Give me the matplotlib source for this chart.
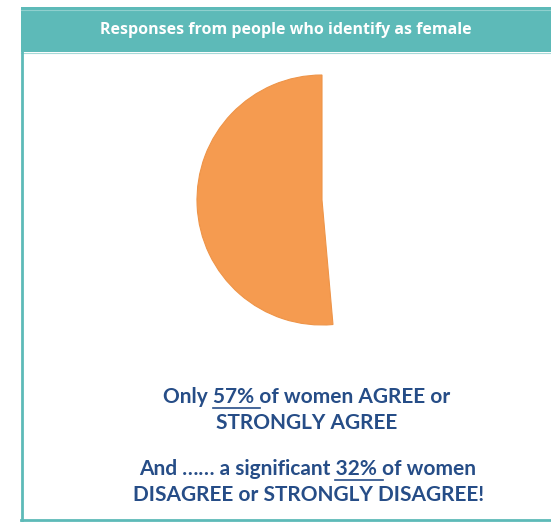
import matplotlib.pyplot as plt
from matplotlib.patches import Rectangle

# data
slice_labels = ['Shown', 'Rest']
slice_values = [51.4, 48.6]
title_text = 'Responses from people who identify as female'
line1 = ('Only ', '57% ', 'of women AGREE or')
line2 = 'STRONGLY AGREE'
line3 = ('And \u2026\u2026 a significant ', '32% ', 'of women')
line4 = 'DISAGREE or STRONGLY DISAGREE!'

W, H = 551, 522
teal = '#5DBAB8'
orange = '#F59B50'
navy = '#264D87'

fig = plt.figure(figsize=(W / 100, H / 100), dpi=100)
ax = fig.add_axes([0, 0, 1, 1])
ax.set_xlim(0, W)
ax.set_ylim(H, 0)
ax.axis('off')

# frame and header
ax.add_patch(Rectangle((21, 7), W - 21, 45, color=teal, lw=0))
ax.plot([21, W], [9.5, 9.5], color='#8FD0CE', lw=0.8)
ax.plot([21, W], [52.5, 52.5], color='#A6DAD8', lw=0.8)
ax.plot([22, 22], [52, 520], color=teal, lw=2)
ax.plot([21, W], [520, 520], color=teal, lw=2)
ax.text(286, 30, title_text, color='white', fontsize=11.5, fontweight='bold',
        family='Open Sans', ha='center', va='center')

# pie
cx, cy, r = 322, 200, 125
pax = fig.add_axes([(cx - r) / W, 1 - (cy + r) / H, 2 * r / W, 2 * r / H])
wedges, _ = pax.pie(slice_values, startangle=90, counterclock=True,
                    colors=[orange, 'none'],
                    wedgeprops=dict(edgecolor='none', linewidth=0))
wedges[0].set_edgecolor('#EE9448')
wedges[0].set_linewidth(0.8)
pax.set_xlim(-1, 1)
pax.set_ylim(-1, 1)
pax.set_aspect('auto')
pax.axis('off')
for w in wedges:
    w.set_clip_on(False)

fig.canvas.draw()
renderer = fig.canvas.get_renderer()
tkw = dict(color=navy, fontsize=15, fontweight='bold', family='Lato')


def text_width(s):
    t = ax.text(0, 0, s, **tkw)
    bb = t.get_window_extent(renderer)
    t.remove()
    return bb.width


def underlined_line(parts, xc, y):
    full = ''.join(parts)
    total = text_width(full)
    x0 = xc - total / 2
    ax.text(xc, y, full, ha='center', va='center', **tkw)
    ux0 = x0 + text_width(parts[0].rstrip()) + text_width(' ') * 0.9
    ux1 = x0 + text_width(parts[0] + parts[1])
    ax.plot([ux0, ux1], [y + 11, y + 11], color=navy, lw=1.2)


underlined_line(line1, 307, 397)
ax.text(307, 423, line2, ha='center', va='center', **tkw)
underlined_line(line3, 308, 469)
ax.text(309, 495, line4, ha='center', va='center', **tkw)

fig.savefig('out.png', dpi=100)
